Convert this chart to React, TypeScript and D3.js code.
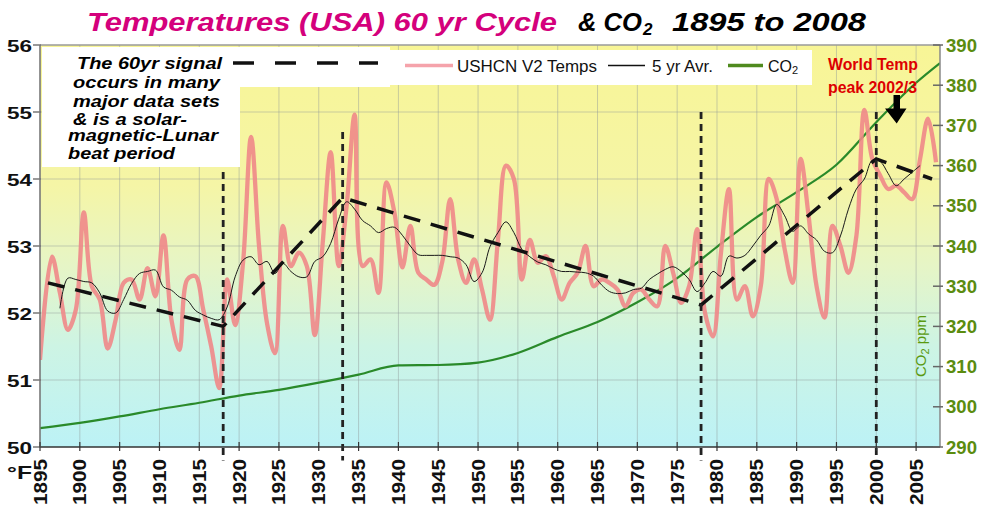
import React from 'react';
import * as d3 from 'd3';

// ---------- DATA ----------
const tempStartYear = 1895;
const tempValues = [
  51.30, 52.84, 52.30, 51.75, 52.05, 53.50, 52.40, 52.20, 51.47, 51.90,
  52.45, 52.50, 52.20, 52.67, 52.25, 53.16, 51.90, 51.45, 52.50, 52.55,
  52.05, 51.50, 50.88, 52.50, 51.82, 52.76, 54.63, 53.00, 51.85, 51.40,
  53.30, 52.70, 52.90, 52.70, 51.67, 53.05, 54.40, 52.70, 53.60, 54.96,
  52.70, 52.80, 52.30, 53.95, 53.50, 52.68, 53.30, 52.60, 52.50, 52.42,
  52.76, 53.70, 52.80, 52.45, 52.80, 52.35, 51.90, 53.10, 54.20, 54.00,
  52.50, 53.09, 52.75, 52.85, 52.55, 52.20, 52.45, 52.60, 53.00, 52.40,
  52.50, 52.45, 52.35, 52.10, 52.30, 52.35, 52.20, 52.10, 53.00, 52.60,
  52.15, 52.40, 53.25, 52.00, 51.65, 52.90, 53.85, 52.20, 52.40, 51.95,
  52.40, 54.00, 53.70, 52.95, 52.45, 54.30, 53.45, 52.40, 51.93, 53.30,
  53.00, 52.60, 53.15, 55.03, 54.30, 54.05, 53.85, 53.90, 53.80, 53.70,
  54.30, 54.90, 54.25,
];

const avgStartYear = 1897;
const avgValues = [
  52.07, 52.52, 52.50, 52.47, 52.45, 52.30, 52.03, 52.00, 52.20, 52.44,
  52.59, 52.62, 52.64, 52.39, 52.34, 52.24, 52.19, 52.04, 51.97, 51.92,
  51.90, 52.09, 52.54, 52.79, 52.84, 52.72, 52.77, 52.59, 52.74, 52.62,
  52.54, 52.54, 52.77, 52.84, 53.04, 53.40, 53.66, 53.55, 53.38, 53.30,
  53.20, 53.26, 53.28, 53.16, 53.00, 52.87, 52.86, 52.86, 52.86, 52.84,
  52.82, 52.72, 52.47, 52.60, 52.99, 53.20, 53.36, 53.20, 52.95, 52.84,
  52.76, 52.72, 52.66, 52.62, 52.62, 52.61, 52.60, 52.55, 52.42, 52.32,
  52.29, 52.30, 52.35, 52.37, 52.50, 52.58, 52.65, 52.69, 52.62, 52.50,
  52.32, 52.45, 52.62, 52.55, 52.85, 52.82, 52.86, 53.00, 53.16, 53.30,
  53.62, 53.45, 53.22, 53.30, 53.18, 53.09, 52.92, 52.90, 53.15, 53.55,
  53.85, 54.00, 54.28, 54.26, 54.08, 53.90, 54.00, 54.10, 54.20,
];

const co2Years = [1895, 1900, 1905, 1910, 1915, 1920, 1925, 1930, 1935, 1940, 1945, 1950, 1955, 1960, 1965, 1970, 1975, 1980, 1985, 1990, 1995, 2000, 2005, 2008];
const co2Values = [294.7, 296.0, 297.6, 299.4, 301.0, 302.8, 304.2, 306.0, 308.0, 310.3, 310.4, 311.0, 313.4, 317.4, 321.1, 326.0, 332.0, 339.8, 347.2, 353.4, 360.2, 370.8, 380.6, 385.5];

const trendYears = [1896, 1918, 1933, 1978, 2000, 2007];
const trendValues = [52.45, 51.8, 53.72, 52.12, 54.3, 54.0];

const markerYears = [1918, 1933, 1978, 2000];
const markerTops = [55.0, 54.7, 55.0, 55.0];

const xTickYears = [1895, 1900, 1905, 1910, 1915, 1920, 1925, 1930, 1935, 1940, 1945, 1950, 1955, 1960, 1965, 1970, 1975, 1980, 1985, 1990, 1995, 2000, 2005];
const tempTicks = [50, 51, 52, 53, 54, 55, 56];
const co2Ticks = [290, 300, 310, 320, 330, 340, 350, 360, 370, 380, 390];

const noteLines = ['The 60yr signal', 'occurs in many', 'major data sets', '& is a solar-', 'magnetic-Lunar', 'beat period'];

// ---------- LAYOUT ----------
const W = 981, H = 509;
const L = 40, R = 940, T = 45, B = 447;
const FONT = 'Liberation Sans, Arial, Helvetica, sans-serif';

const x = d3.scaleLinear().domain([1895, 2008]).range([L, R]);
const yT = d3.scaleLinear().domain([50, 56]).range([B, T]);
const yC = d3.scaleLinear().domain([290, 390]).range([B, T]);

const tempPath = d3.line<number>()
  .x((_, i) => x(tempStartYear + i + (i === 0 ? 0 : 0.5)))
  .y(d => yT(d))
  .curve(d3.curveCatmullRom.alpha(0.5))(tempValues) as string;

const avgPath = d3.line<number>()
  .x((_, i) => x(avgStartYear + i + 0.5))
  .y(d => yT(d))
  .curve(d3.curveCatmullRom.alpha(0.5))(avgValues) as string;

const co2Path = d3.line<number>()
  .x((_, i) => x(co2Years[i]))
  .y(d => yC(d))
  .curve(d3.curveMonotoneX)(co2Values) as string;

const trendPath = d3.line<number>()
  .x((_, i) => x(trendYears[i]))
  .y(d => yT(d))(trendValues) as string;

const noteBaselines = [69, 88, 106.5, 124.5, 140.5, 158.5];
const noteX = [77, 73, 73, 73, 68, 68];
const noteW = [145, 147, 147, 114, 150, 107];

export default function App() {
  return (
    <svg width={W} height={H} viewBox={`0 0 ${W} ${H}`}
      style={{ position: 'absolute', left: 0, top: 0, background: '#fff' }}
      fontFamily={FONT}>
      <defs>
        <linearGradient id="bg" x1="0" y1="0" x2="0" y2="1">
          <stop offset="0" stopColor="#f8f596" />
          <stop offset="0.35" stopColor="#f5f5a6" />
          <stop offset="0.55" stopColor="#e6f5c6" />
          <stop offset="0.75" stopColor="#cdf4e4" />
          <stop offset="1" stopColor="#bcf2f6" />
        </linearGradient>
        <clipPath id="plot"><rect x={L} y={T} width={R - L} height={B - T} /></clipPath>
      </defs>

      {/* Title */}
      <text x={87} y={31} fontSize={26} fontWeight="bold" fontStyle="italic" fill="#d4007c"
        textLength={470} lengthAdjust="spacingAndGlyphs">Temperatures (USA) 60 yr Cycle</text>
      <text x={578} y={31} fontSize={26} fontWeight="bold" fontStyle="italic" fill="#000"
        textLength={64} lengthAdjust="spacingAndGlyphs">&amp; CO</text>
      <text x={643} y={35} fontSize={17} fontWeight="bold" fontStyle="italic" fill="#000">2</text>
      <text x={672} y={31} fontSize={26} fontWeight="bold" fontStyle="italic" fill="#000"
        textLength={194} lengthAdjust="spacingAndGlyphs">1895 to 2008</text>

      {/* Plot background */}
      <rect x={L} y={T} width={R - L} height={B - T} fill="url(#bg)" />

      {/* Grid */}
      {xTickYears.map(yr => (
        <line key={'gx' + yr} x1={x(yr)} x2={x(yr)} y1={T} y2={B} stroke="#8d9a9a" strokeOpacity={0.45} strokeWidth={1} />
      ))}
      {tempTicks.slice(1, -1).map(t => (
        <line key={'gy' + t} x1={L} x2={R} y1={yT(t)} y2={yT(t)} stroke="#8d9a9a" strokeOpacity={0.45} strokeWidth={1} />
      ))}

      {/* Series */}
      <g clipPath="url(#plot)">
        <path d={co2Path} fill="none" stroke="#2a8a2a" strokeWidth={2.2} />
        <path d={tempPath} fill="none" stroke="#ef8888" strokeWidth={4.3} strokeOpacity={0.9} strokeLinejoin="round" />
        <path d={avgPath} fill="none" stroke="#1a1a1a" strokeWidth={1} />
        <path d={trendPath} fill="none" stroke="#111" strokeWidth={3.5} strokeDasharray="17 11" />
      </g>

      {/* Vertical cycle markers */}
      {markerYears.map((yr, i) => (
        <line key={'m' + yr} x1={x(yr)} x2={x(yr)} y1={yT(markerTops[i])} y2={yT(49.8)}
          stroke="#222" strokeWidth={2.8} strokeDasharray="7 5" />
      ))}

      {/* Frame / axes */}
      <line x1={L} x2={R} y1={T} y2={T} stroke="#9a9a9a" strokeWidth={1.5} />
      <line x1={L} x2={L} y1={T} y2={B} stroke="#777" strokeWidth={1.5} />
      <line x1={R} x2={R} y1={T} y2={B} stroke="#888" strokeWidth={1.5} />
      <line x1={L} x2={R} y1={B} y2={B} stroke="#333" strokeWidth={1.5} />

      {tempTicks.map(t => (
        <g key={'lt' + t}>
          <line x1={L - 7} x2={L + 1} y1={yT(t)} y2={yT(t)} stroke="#777" strokeWidth={1.5} />
          <text x={32} y={yT(t) + 6.5} fontSize={17} fontWeight="bold" textAnchor="end"
            textLength={25} lengthAdjust="spacingAndGlyphs" fill="#111">{t}</text>
        </g>
      ))}

      {co2Ticks.map(t => (
        <g key={'rt' + t}>
          <line x1={R - 7} x2={R + 3} y1={yC(t)} y2={yC(t)} stroke="#666" strokeWidth={1.5} />
          <text x={946} y={yC(t) + 6.5} fontSize={18} fontWeight="bold"
            textLength={31} lengthAdjust="spacingAndGlyphs" fill="#5b8c0f">{t}</text>
        </g>
      ))}

      {xTickYears.map(yr => (
        <g key={'xt' + yr}>
          <line x1={x(yr)} x2={x(yr)} y1={B - 5} y2={B + 4} stroke="#333" strokeWidth={1.2} />
          <text transform={`translate(${x(yr) + 6.5},459) rotate(-90)`} fontSize={18} fontWeight="bold"
            textAnchor="end" textLength={46} lengthAdjust="spacingAndGlyphs" fill="#111">{yr}</text>
        </g>
      ))}

      <text x={7} y={479} fontSize={18} fontWeight="bold" textLength={25} lengthAdjust="spacingAndGlyphs" fill="#111">°F</text>

      {/* CO2 ppm axis title */}
      <text transform="translate(926,346) rotate(-90)" fontSize={15} textAnchor="middle" fill="#5a9a10">
        CO<tspan fontSize={11} dy={3}>2</tspan><tspan dy={-3}>  ppm</tspan>
      </text>

      {/* Annotation box */}
      <path d={`M${L + 2},${T + 2} H390 V87 H240 V167 H${L + 2} Z`} fill="#fff" />
      {noteLines.map((s, i) => (
        <text key={'n' + i} x={noteX[i]} y={noteBaselines[i]} fontSize={16} fontWeight="bold" fontStyle="italic"
          textLength={noteW[i]} lengthAdjust="spacingAndGlyphs" fill="#000">{s}</text>
      ))}
      <line x1={233} x2={378} y1={63} y2={63} stroke="#111" strokeWidth={3.5} strokeDasharray="21 21" />

      {/* Legend */}
      <rect x={390} y={50} width={422} height={35} fill="#fff" />
      <line x1={405} x2={453} y1={65.5} y2={65.5} stroke="#f5a3ab" strokeWidth={3.5} />
      <text x={457} y={72} fontSize={16} textLength={140} lengthAdjust="spacingAndGlyphs" fill="#111">USHCN V2 Temps</text>
      <line x1={608} x2={645} y1={65.5} y2={65.5} stroke="#111" strokeWidth={1.3} />
      <text x={652} y={72} fontSize={16} textLength={61} lengthAdjust="spacingAndGlyphs" fill="#111">5 yr Avr.</text>
      <line x1={728} x2={763} y1={65.5} y2={65.5} stroke="#4f8a1e" strokeWidth={3.5} />
      <text x={768} y={72} fontSize={16} fill="#111">CO<tspan fontSize={11} dy={2}>2</tspan></text>

      {/* World temp peak note */}
      <text x={828} y={70} fontSize={17} fontWeight="bold" fill="#dd0000" textLength={90} lengthAdjust="spacingAndGlyphs">World Temp</text>
      <text x={828} y={93} fontSize={17} fontWeight="bold" fill="#dd0000" textLength={89} lengthAdjust="spacingAndGlyphs">peak 2002/3</text>
      <path d="M893.5,95 H900 V108.5 H906.5 L896.7,123.5 L885,108.5 H893.5 Z" fill="#000" />
    </svg>
  );
}
